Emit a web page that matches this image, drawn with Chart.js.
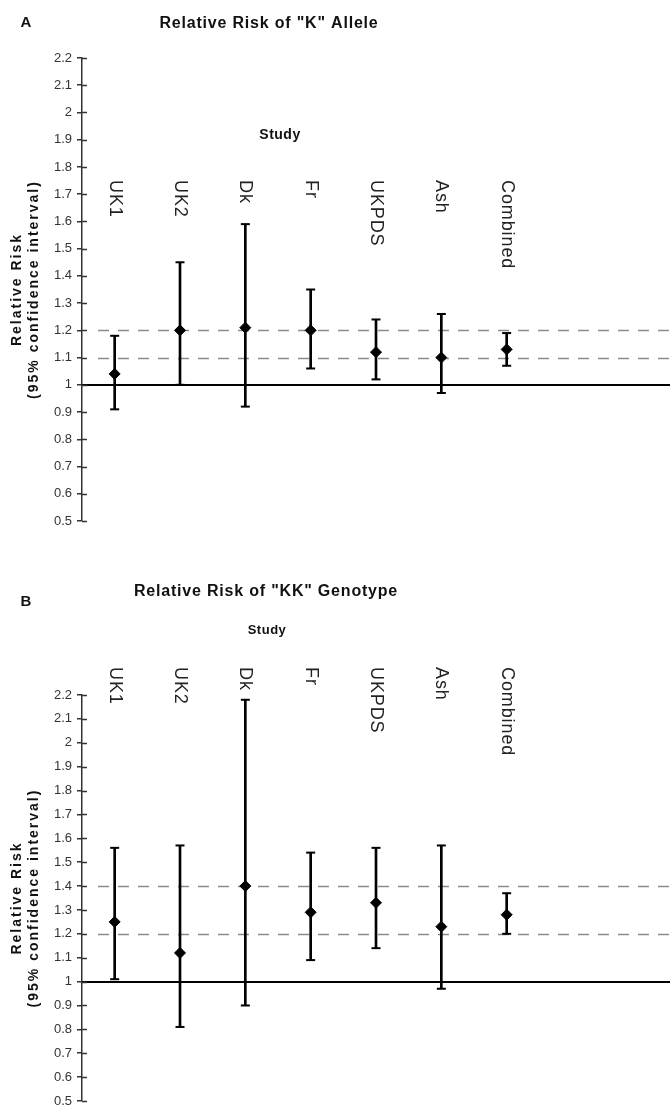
<!DOCTYPE html>
<html lang="en">
<head>
  <meta charset="UTF-8">
  <title>Relative Risk of "K" Allele and "KK" Genotype</title>
  <script src="https://cdn.jsdelivr.net/npm/chart.js"></script>
  <style>
    body { margin: 0; background: #fff; overflow: hidden; width: 670px; height: 1106px; position: relative; }
    canvas { position: absolute; left: 0; }
    #chartA { top: 0; }
    #chartB { top: 560px; }
  </style>
</head>
<body>
<canvas id="chartA" width="670" height="560"></canvas>
<canvas id="chartB" width="670" height="560"></canvas>
<script>
// studies along the x axis
const studies = ['UK1', 'UK2', 'Dk', 'Fr', 'UKPDS', 'Ash', 'Combined'];
const yTicks = [0.5, 0.6, 0.7, 0.8, 0.9, 1.0, 1.1, 1.2, 1.3, 1.4, 1.5, 1.6, 1.7, 1.8, 1.9, 2.0, 2.1, 2.2];

// panel A - "K" allele
const alleleRR   = [1.04, 1.20, 1.21, 1.20, 1.12, 1.10, 1.13];
const alleleLow  = [0.91, 1.00, 0.92, 1.06, 1.02, 0.97, 1.07];
const alleleHigh = [1.18, 1.45, 1.59, 1.35, 1.24, 1.26, 1.19];
const alleleRefs = [1.1, 1.2];

// panel B - "KK" genotype
const genoRR   = [1.25, 1.12, 1.40, 1.29, 1.33, 1.23, 1.28];
const genoLow  = [1.01, 0.81, 0.90, 1.09, 1.14, 0.97, 1.20];
const genoHigh = [1.56, 1.57, 2.18, 1.54, 1.56, 1.57, 1.37];
const genoRefs = [1.2, 1.4];

const FONT = '"Liberation Sans", Arial, sans-serif';

// reference lines: dashed at the given values, solid at 1
const refLines = {
  id: 'refLines',
  beforeDatasetsDraw(chart, args, o) {
    const ctx = chart.ctx, y = chart.scales.y, a = chart.chartArea;
    ctx.save();
    ctx.strokeStyle = '#8a8a8a';
    ctx.lineWidth = 1.5;
    ctx.setLineDash([11, 9]);
    o.values.forEach(v => {
      const py = Math.round(y.getPixelForValue(v)) + 0.5;
      ctx.beginPath();
      ctx.moveTo(a.left + 16, py);
      ctx.lineTo(a.right, py);
      ctx.stroke();
    });
    ctx.setLineDash([]);
    ctx.strokeStyle = '#000';
    ctx.lineWidth = 2;
    const p1 = Math.round(y.getPixelForValue(1));
    ctx.beginPath();
    ctx.moveTo(a.left, p1);
    ctx.lineTo(a.right, p1);
    ctx.stroke();
    ctx.restore();
  }
};

// titles, rotated study names and the inner half of the y ticks
const panelText = {
  id: 'panelText',
  afterDraw(chart, args, o) {
    const ctx = chart.ctx, x = chart.scales.x, y = chart.scales.y, a = chart.chartArea;
    ctx.save();
    ctx.strokeStyle = '#333';
    ctx.lineWidth = 1.5;
    y.ticks.forEach(t => {
      const py = Math.round(y.getPixelForValue(t.value)) + 0.5;
      ctx.beginPath();
      ctx.moveTo(a.left, py);
      ctx.lineTo(a.left + 5, py);
      ctx.stroke();
    });

    ctx.fillStyle = '#111';
    ctx.textBaseline = 'middle';
    ctx.textAlign = 'center';
    ctx.font = 'bold 15px ' + FONT;
    ctx.fillText(o.letter, 26, o.letterY);

    ctx.letterSpacing = '0.8px';
    ctx.font = 'bold 16px ' + FONT;
    ctx.fillText(o.title, o.titleX, o.titleY);

    ctx.letterSpacing = '0.5px';
    ctx.font = 'bold ' + o.studySize + 'px ' + FONT;
    ctx.fillText('Study', o.studyX, o.studyY);

    // y axis title, two lines
    const midY = (a.top + a.bottom) / 2;
    ctx.letterSpacing = '2px';
    ctx.font = 'bold 14px ' + FONT;
    [['Relative Risk', 17], ['(95% confidence interval)', 34]].forEach(([txt, px]) => {
      ctx.save();
      ctx.translate(px, midY);
      ctx.rotate(-Math.PI / 2);
      ctx.fillText(txt, 0, 0);
      ctx.restore();
    });

    // study names, turned clockwise
    ctx.letterSpacing = '0.9px';
    ctx.font = '18px ' + FONT;
    ctx.fillStyle = '#222';
    ctx.textAlign = 'left';
    studies.forEach((s, i) => {
      ctx.save();
      ctx.translate(x.getPixelForValue(i), o.labelTop);
      ctx.rotate(Math.PI / 2);
      ctx.fillText(s, 0, 0);
      ctx.restore();
    });
    ctx.restore();
  }
};

function makeChart(id, rr, low, high, refs, text, padTop, padBottom) {
  return new Chart(document.getElementById(id), {
    type: 'scatter',
    data: {
      datasets: [
        {
          data: rr.map((v, i) => ({ x: i, y: v })),
          pointStyle: 'rectRot', pointRadius: 5.5,
          backgroundColor: '#000', borderColor: '#000', borderWidth: 1
        },
        {
          data: low.map((v, i) => ({ x: i, y: v })).concat(high.map((v, i) => ({ x: i, y: v }))),
          pointStyle: 'line', pointRadius: 4.5,
          borderColor: '#000', borderWidth: 2
        },
        {
          type: 'bar',
          data: low.map((v, i) => ({ x: i, y: [v, high[i]] })),
          backgroundColor: '#000', borderWidth: 0, barThickness: 2
        }
      ]
    },
    options: {
      responsive: false,
      animation: false,
      layout: { autoPadding: false, padding: { top: padTop, bottom: padBottom, left: 0, right: 0 } },
      scales: {
        x: { type: 'linear', min: -0.5, max: 8.5, offset: false, display: false, grid: { offset: false } },
        y: {
          type: 'linear', min: 0.5, max: 2.2,
          afterBuildTicks: s => { s.ticks = yTicks.map(v => ({ value: v })); },
          afterFit: s => { s.width = 82; },
          grid: { drawOnChartArea: false, drawTicks: true, tickLength: 5, color: '#333', lineWidth: 1.5 },
          border: { display: true, color: '#333', width: 1.5 },
          ticks: {
            padding: 5, color: '#333',
            font: { family: FONT, size: 13 },
            callback: v => String(Math.round(v * 10) / 10)
          }
        }
      },
      plugins: {
        legend: { display: false },
        tooltip: { enabled: false },
        refLines: { values: refs },
        panelText: text
      }
    },
    plugins: [refLines, panelText]
  });
}

makeChart('chartA', alleleRR, alleleLow, alleleHigh, alleleRefs, {
  letter: 'A', letterY: 23,
  title: 'Relative Risk of "K" Allele', titleX: 269, titleY: 24,
  studyX: 280, studyY: 135, studySize: 14,
  labelTop: 180
}, 58, 39);

makeChart('chartB', genoRR, genoLow, genoHigh, genoRefs, {
  letter: 'B', letterY: 42,
  title: 'Relative Risk of "KK" Genotype', titleX: 266, titleY: 32,
  studyX: 267, studyY: 70, studySize: 13,
  labelTop: 107
}, 135, 19);
</script>
</body>
</html>
